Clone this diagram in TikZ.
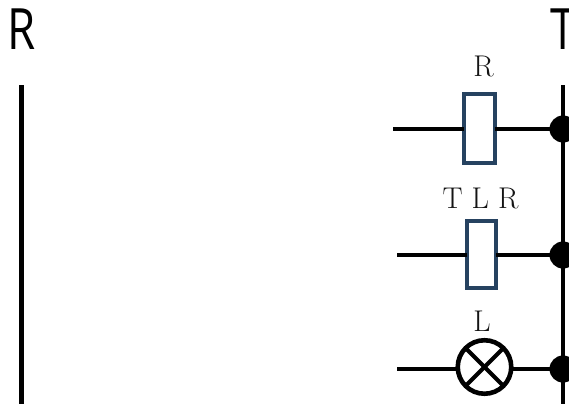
\documentclass[tikz,border=0pt]{standalone}
\usepackage{fontspec}
\setsansfont{Open Sans}
\tikzset{
  wire/.style={line width=4.6pt,black},
  bus/.style={line width=4.8pt,black},
  relay/.style={draw={rgb,255:red,38;green,66;blue,96},line width=4pt,fill=white,minimum width=30.5pt,inner sep=0pt,outer sep=0pt},
  lamp/.style={circle,draw=black,line width=4.6pt,fill=white,minimum size=53.5pt,inner sep=0pt,outer sep=0pt},
  junction/.style={circle,fill=black,minimum size=27pt,inner sep=0pt,outer sep=0pt},
  lab/.style={font=\fontsize{30}{32}\selectfont,inner sep=0pt,text=black!92},
  head/.style={font=\sffamily\fontsize{57}{59}\selectfont,inner sep=0pt,xscale=0.8,text=black}
}
\begin{document}
\begin{tikzpicture}[x=1pt,y=-1pt]
\useasboundingbox (0,0) rectangle (569,404);
\clip (0,0) rectangle (569,404);
\node[head] (hr) at (22,29) {R};
\node[head] (ht) at (563,29) {T};
\coordinate (lt) at (21.5,85);
\coordinate (lb) at (21.5,404);
\coordinate (rt) at (563,85);
\coordinate (rb) at (563,404);
\draw[bus,line width=5.2pt] (lt) -- (lb);
\draw[bus] (rt) -- (rb);
\node[junction] (j1) at (563,129) {};
\node[junction] (j2) at (563,255) {};
\node[junction] (j3) at (563,369) {};
\coordinate (w1) at (393,129);
\coordinate (w2) at (397,255);
\coordinate (w3) at (397,369);
\node[relay,minimum height=69.5pt] (k1) at (479.5,128.5) {};
\node[relay,minimum height=67.5pt,minimum width=29.5pt] (k2) at (481.5,254.5) {};
\node[lamp] (l1) at (484.5,367) {};
\draw[wire] (w1) -- (w1 -| k1.west);
\draw[wire] (w1 -| k1.east) -- (j1);
\draw[wire] (w2) -- (w2 -| k2.west);
\draw[wire] (w2 -| k2.east) -- (j2);
\draw[wire] (w3) -- (w3 -| l1.west);
\draw[wire] (w3 -| l1.east) -- (j3);
\draw[line width=4pt] (l1.north west) -- (l1.south east);
\draw[line width=4pt] (l1.north east) -- (l1.south west);
\node[lab] (t1) at (483.5,66.5) {R};
\node[lab] (t2) at (480.5,198.5) {T L R};
\node[lab] (t3) at (482,321) {L};
\end{tikzpicture}
\end{document}
